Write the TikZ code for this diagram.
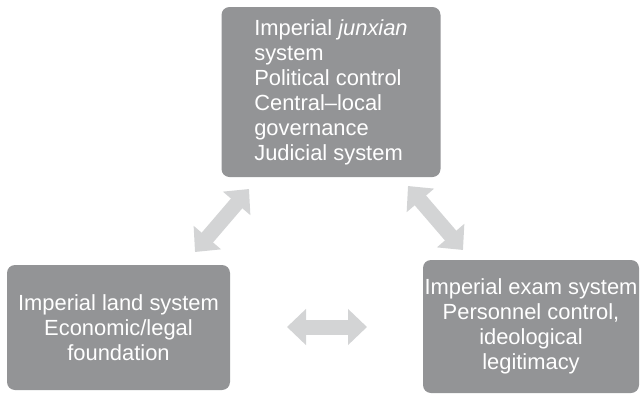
\documentclass[tikz,border=0pt]{standalone}
\usepackage{fontspec}
\setmainfont{Liberation Sans}
\usepackage{xcolor}
\usetikzlibrary{arrows.meta}
\usetikzlibrary{positioning}

\definecolor{boxgray}{RGB}{147,148,150}
\definecolor{arrowgray}{RGB}{211,212,213}

\begin{document}
\begin{tikzpicture}[x=1pt, y=-1pt]
  \tikzstyle{sysbox}=[fill=boxgray, rounded corners=8pt, inner sep=0pt, text=white,
    font=\fontsize{21.9}{25}\selectfont]
  \tikzstyle{link}=[arrowgray, line width=15pt,
    {Triangle[width=35pt,length=19pt]}-{Triangle[width=35pt,length=19pt]}]
\useasboundingbox (0,0) rectangle (641,394);
  \node[sysbox, minimum width=219pt, minimum height=170pt, align=left] (junxian) at (331,92)
    {Imperial \textit{junxian}\\system\\Political control\\Central–local\\governance\\Judicial system};
  \node[sysbox, minimum width=223pt, minimum height=125pt, align=center] (land) at (118.5,327.5)
    {Imperial land system\\Economic/legal\\foundation};
  \node[sysbox, minimum width=216pt, minimum height=133pt, align=center] (exam) at (531,326.5)
    {Imperial exam system\\Personnel control,\\ideological\\legitimacy};
  % arrow ends
  \coordinate (l1) at (195,252);  \coordinate (l2) at (249,189);
  \coordinate (r1) at (408,186);  \coordinate (r2) at (463,250);
  \coordinate (h1) at (287,327);  \coordinate (h2) at (367,327);
  \draw[link] (l1) -- (l2);
  \draw[link] (r1) -- (r2);
  \draw[link] (h1) -- (h2);
   \end{tikzpicture}
\end{document}
